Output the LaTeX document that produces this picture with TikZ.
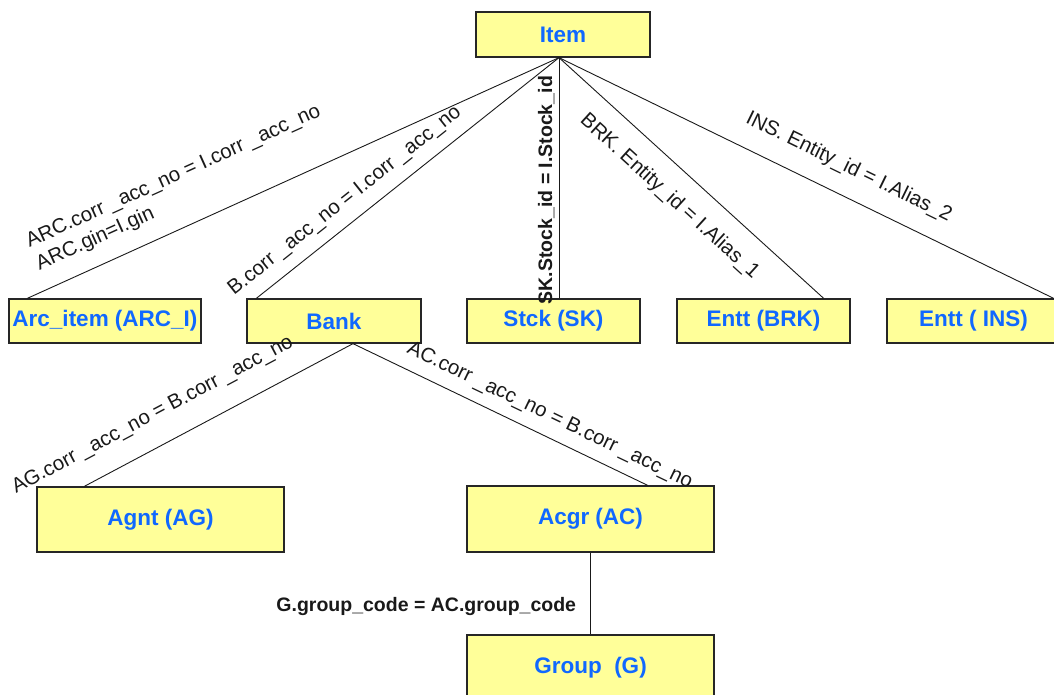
\documentclass[tikz,border=0pt]{standalone}
\usepackage{fontspec}
\setmainfont{Liberation Sans}
\definecolor{entyellow}{RGB}{255,255,153}
\definecolor{entblue}{RGB}{16,104,255}
\tikzset{
  entbox/.style={draw=black!85,line width=1.3pt,fill=entyellow,text=entblue,inner sep=0pt,
    font=\fontsize{22.5}{26}\selectfont\bfseries},
  cond/.style={font=\fontsize{20.5}{24.5}\selectfont,inner sep=3pt},
  condb/.style={font=\fontsize{19.5}{23}\selectfont\bfseries,inner sep=3pt},
  link/.style={line width=.9pt,black!90}
}
\begin{document}
\begin{tikzpicture}[x=1pt,y=-1pt]
\useasboundingbox(0,0)rectangle(1054,695);
\node[entbox,minimum width=174,minimum height=45](item)at(563,34.5){Item};
\node[entbox,minimum width=192,minimum height=44](arc)at(105,321){Arc\_item (ARC\_I)};
\node[entbox,minimum width=174,minimum height=44](bank)at(334,321){Bank};
\node[entbox,minimum width=173,minimum height=44](stck)at(553.5,321){Stck (SK)};
\node[entbox,minimum width=173,minimum height=44](brk)at(763.5,321){Entt (BRK)};
\node[entbox,minimum width=173,minimum height=44](ins)at(973.5,321){Entt ( INS)};
\node[entbox,minimum width=247,minimum height=65](agnt)at(160.5,519.5){Agnt (AG)};
\node[entbox,minimum width=247,minimum height=66](acgr)at(590.5,519){Acgr (AC)};
\node[entbox,minimum width=247,minimum height=66](group)at(590.5,668){Group\ \ (G)};
\coordinate(hub)at([xshift=-4]item.south);
\coordinate(fork)at([xshift=19]bank.south);
\draw[link](hub)--([xshift=19]arc.north west)
  node[cond,pos=.686,sloped,above=13pt,align=left]{ARC.corr \_acc\_no = I.corr \_acc\_no\\ARC.gin=I.gin};
\draw[link](hub)--([xshift=10]bank.north west)
  node[cond,pos=.664,sloped,above=8.5pt]{B.corr \_acc\_no = I.corr \_acc\_no};
\draw[link](hub|-stck.north)--(hub)
  node[condb,pos=.45,sloped,above=1pt]{SK.Stock\_id = I.Stock\_id};
\draw[link](hub)--([xshift=-27]brk.north east)
  node[cond,pos=.49,sloped,below=15.5pt]{BRK. Entity\_id = I.Alias\_1};
\draw[link](hub)--([xshift=-7]ins.north east)
  node[cond,pos=.561,sloped,above=15pt]{INS. Entity\_id = I.Alias\_2};
\draw[link](fork)--([xshift=48]agnt.north west)
  node[cond,pos=.692,sloped,above=18pt]{AG.corr \_acc\_no = B.corr \_acc\_no};
\draw[link](fork)--([xshift=-67]acgr.north east)
  node[cond,pos=.638,sloped,above=7.5pt]{AC.corr \_acc\_no = B.corr \_acc\_no};
\draw[link](acgr)--(group)
  node[condb,pos=.66,left=11pt]{G.group\_code = AC.group\_code};
\end{tikzpicture}
\end{document}
